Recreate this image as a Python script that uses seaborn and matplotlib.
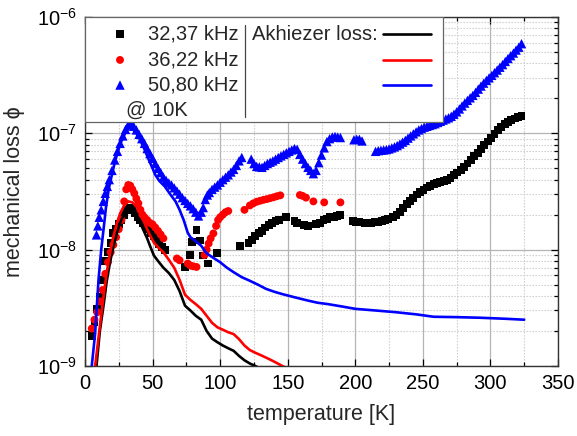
import numpy as np
import pandas as pd
import matplotlib
matplotlib.use("Agg")
import matplotlib.pyplot as plt
from matplotlib.ticker import MultipleLocator, LogLocator, NullFormatter
from matplotlib.lines import Line2D
from matplotlib.patches import Rectangle
import seaborn as sns

# ---- measured mechanical loss (markers) ----
t_3237 = [5, 7, 9, 11, 13, 15, 17, 19, 21, 23, 25, 27, 29, 31, 33, 35, 37, 39, 41, 43,
          45, 47, 49, 51, 53, 55, 57, 59,
          74, 78, 79, 82.5, 85, 87.5, 91, 97.5, 114.7,
          121, 123.5, 126, 128.5, 131, 133.5, 136, 138.5, 141, 143.5, 149, 155, 157, 162,
          165, 171, 174, 176.5, 179, 181.5, 184, 186.5, 189,
          198, 200.5, 203, 207, 209.5, 212, 214.5, 217, 219.5, 222, 224.5, 228, 230.5,
          233, 235.5, 238, 240.5, 243, 245.5, 248, 250.5, 253, 255.5, 258, 260.5, 263,
          265.5, 268, 270.5, 273, 275.5, 278, 280.5, 283, 285.5, 288, 290.5, 293, 295.5,
          298, 300.5, 303, 305.5, 308, 310.5, 313, 315.5, 318, 320.5, 323]
phi_3237 = [1.8e-9, 2.4e-9, 3.1e-9, 3.9e-9, 5.5e-9, 8e-9, 9.5e-9, 1.15e-8, 1.38e-8, 1.5e-8,
            1.65e-8, 1.8e-8, 2.0e-8, 2.2e-8, 2.3e-8, 2.2e-8, 2.05e-8, 1.9e-8, 1.8e-8, 1.7e-8,
            1.6e-8, 1.5e-8, 1.4e-8, 1.3e-8, 1.2e-8, 1.12e-8, 1.05e-8, 1.0e-8,
            7.1e-9, 9.0e-9, 1.17e-8, 1.48e-8, 1.2e-8, 8.9e-9, 7.6e-9, 9.4e-9, 1.08e-8,
            1.15e-8, 1.22e-8, 1.3e-8, 1.38e-8, 1.45e-8, 1.55e-8, 1.62e-8, 1.7e-8, 1.75e-8,
            1.8e-8, 1.9e-8, 1.75e-8, 1.7e-8, 1.62e-8,
            1.6e-8, 1.65e-8, 1.7e-8, 1.8e-8, 1.85e-8, 1.9e-8, 1.92e-8, 1.95e-8, 2.0e-8,
            1.75e-8, 1.73e-8, 1.72e-8, 1.7e-8, 1.7e-8, 1.7e-8, 1.72e-8, 1.73e-8, 1.76e-8,
            1.8e-8, 1.85e-8, 1.9e-8, 2.0e-8,
            2.12e-8, 2.3e-8, 2.48e-8, 2.62e-8, 2.8e-8, 2.98e-8, 3.12e-8, 3.28e-8, 3.42e-8,
            3.55e-8, 3.68e-8, 3.75e-8, 3.82e-8,
            3.9e-8, 4.0e-8, 4.15e-8, 4.35e-8, 4.6e-8, 4.85e-8, 5.15e-8, 5.5e-8, 5.9e-8,
            6.35e-8, 6.8e-8, 7.3e-8, 7.9e-8,
            8.5e-8, 9.1e-8, 9.8e-8, 1.06e-7, 1.14e-7, 1.2e-7, 1.26e-7, 1.3e-7, 1.34e-7,
            1.38e-7, 1.42e-7]

t_3622 = [5, 7, 9, 11, 13, 15, 17, 19, 21, 23, 25, 27, 29, 30.5, 32, 33.5, 35, 36.5, 38,
          39.5, 41, 42.5, 44, 46, 48, 50, 52, 54, 56, 58,
          68, 70, 76, 78, 80, 82.5,
          88.5, 90, 91.5, 93, 95, 97, 98.5, 100, 102, 104, 106, 118,
          122, 124.5, 127, 129.5, 132, 134.5, 137, 139.5, 142, 144.5,
          159, 161, 163.5, 169, 177, 189]
phi_3622 = [2.1e-9, 2.5e-9, 2.9e-9, 3.6e-9, 4.5e-9, 6.2e-9, 7.8e-9, 9.5e-9, 1.1e-8,
            1.28e-8, 1.5e-8, 1.8e-8, 2.6e-8, 3.3e-8, 3.6e-8, 3.55e-8, 3.3e-8, 3.05e-8,
            2.75e-8, 2.5e-8, 2.2e-8, 2.0e-8, 1.9e-8, 1.8e-8, 1.7e-8, 1.65e-8, 1.55e-8,
            1.45e-8, 1.35e-8, 1.25e-8,
            8.4e-9, 8.1e-9, 7.6e-9, 7.3e-9, 7.2e-9, 7.1e-9,
            9.0e-9, 1.0e-8, 1.13e-8, 1.25e-8, 1.38e-8, 1.6e-8, 1.8e-8, 1.9e-8, 2.0e-8,
            2.1e-8, 2.15e-8, 2.2e-8,
            2.4e-8, 2.5e-8, 2.58e-8, 2.63e-8, 2.68e-8, 2.72e-8, 2.77e-8, 2.82e-8, 2.88e-8,
            2.93e-8,
            2.95e-8, 2.9e-8, 2.8e-8, 2.6e-8, 2.55e-8, 2.55e-8]

t_5080 = [8.5, 9.5, 10.5, 12, 13.5, 15, 16.5, 18, 20, 22, 24, 26, 28, 30, 32, 34, 36, 38,
          40, 42, 44, 46, 48, 50, 52, 54, 56, 58, 60, 62, 64, 66, 68, 70, 72, 74, 76, 78,
          80, 82, 84, 86, 87.5, 89, 90.5, 92, 94, 96, 98, 100, 102, 104, 106, 108, 110,
          112, 114, 116,
          123, 125, 127, 129, 131, 133, 135, 137, 139, 141, 143, 145, 147, 149, 151, 153,
          155, 157, 159, 161, 163, 165, 167, 169, 171, 173, 175, 177, 179, 181, 183, 185,
          187, 189,
          199, 201, 203, 205,
          215, 217, 219, 221, 223, 225, 227, 229, 231, 233, 235, 237, 239, 241, 243, 245,
          247, 249, 251, 253, 255, 257, 259, 261, 263, 265, 267, 269, 271, 273, 275, 277,
          279, 281, 283, 285, 287, 289, 291, 293, 295, 297, 299, 301, 303, 305, 307, 309,
          311, 313, 315, 317, 319, 321, 323]
phi_5080 = [1.34e-8, 1.6e-8, 1.9e-8, 2.2e-8, 2.6e-8, 3.05e-8, 3.5e-8, 4.0e-8, 4.8e-8,
            5.9e-8, 7.0e-8, 8.2e-8, 9.5e-8, 1.08e-7, 1.18e-7, 1.22e-7, 1.15e-7, 1.07e-7,
            9.8e-8, 9.0e-8, 8.2e-8, 7.4e-8, 6.7e-8, 6.1e-8, 5.5e-8, 5.0e-8, 4.6e-8, 4.2e-8,
            3.95e-8, 3.75e-8, 3.6e-8, 3.4e-8, 3.2e-8, 3.0e-8, 2.8e-8, 2.65e-8, 2.5e-8,
            2.38e-8, 2.25e-8, 2.1e-8, 1.95e-8, 2.1e-8, 2.3e-8, 2.7e-8, 2.95e-8, 3.1e-8,
            3.3e-8, 3.45e-8, 3.6e-8, 3.8e-8, 4.0e-8, 4.2e-8, 4.4e-8, 4.65e-8, 4.9e-8,
            5.3e-8, 5.8e-8, 6.2e-8,
            6.0e-8, 5.5e-8, 5.2e-8, 5.15e-8, 5.1e-8, 5.3e-8, 5.5e-8, 5.65e-8, 5.8e-8,
            6.0e-8, 6.2e-8, 6.4e-8, 6.6e-8, 6.8e-8, 7.0e-8, 7.2e-8, 7.4e-8, 7.3e-8, 6.6e-8,
            6.0e-8, 5.5e-8, 5.1e-8, 4.8e-8, 4.5e-8, 4.8e-8, 5.6e-8, 6.5e-8, 7.5e-8, 8.5e-8,
            9.0e-8, 9.3e-8, 9.4e-8, 9.3e-8, 9.2e-8,
            8.8e-8, 8.9e-8, 8.9e-8, 8.6e-8,
            7.0e-8, 7.1e-8, 7.15e-8, 7.2e-8, 7.25e-8, 7.35e-8, 7.5e-8, 7.65e-8, 7.85e-8,
            8.1e-8, 8.4e-8, 8.7e-8, 9.1e-8, 9.5e-8, 9.9e-8, 1.03e-7, 1.07e-7, 1.1e-7,
            1.13e-7, 1.15e-7, 1.17e-7, 1.19e-7, 1.21e-7, 1.24e-7, 1.27e-7, 1.3e-7, 1.33e-7,
            1.36e-7, 1.4e-7, 1.46e-7, 1.53e-7, 1.62e-7, 1.72e-7, 1.82e-7, 1.92e-7, 2.02e-7,
            2.12e-7, 2.25e-7, 2.4e-7, 2.55e-7, 2.7e-7, 2.85e-7, 3.0e-7, 3.15e-7, 3.32e-7,
            3.5e-7, 3.7e-7, 3.9e-7, 4.15e-7, 4.4e-7, 4.65e-7, 4.9e-7, 5.2e-7, 5.5e-7, 5.9e-7]

# ---- Akhiezer loss (lines) ----
ta_3237 = [8.5, 11, 14, 16, 18.5, 21, 23.5, 26, 29, 32, 34, 36, 38.5, 41, 43.5, 46, 48.5,
           51, 54, 58, 62, 66, 70, 74, 78, 82, 86, 90, 94, 98, 102, 106, 110, 114, 118,
           122, 126, 130]
ak_3237 = [1.0e-9, 2.0e-9, 3.5e-9, 5.3e-9, 7.8e-9, 1.06e-8, 1.38e-8, 1.7e-8, 2.05e-8,
           2.3e-8, 2.25e-8, 2.1e-8, 1.9e-8, 1.68e-8, 1.45e-8, 1.25e-8, 1.05e-8, 8.9e-9,
           8.0e-9, 7.0e-9, 6.3e-9, 5.5e-9, 4.4e-9, 3.3e-9, 3.0e-9, 2.7e-9, 2.5e-9, 2.0e-9,
           1.72e-9, 1.6e-9, 1.5e-9, 1.42e-9, 1.35e-9, 1.22e-9, 1.12e-9, 1.05e-9, 1.0e-9,
           0.95e-9]

ta_3622 = [7.5, 11, 13.5, 16, 18.5, 21, 23.5, 26, 29, 32, 35, 38, 40.5, 43, 46, 48.5, 51,
           54, 58, 62, 66, 70, 74, 78, 82, 86, 90, 94, 98, 102, 106, 110, 114, 118, 122,
           126, 130, 134, 138, 142, 146, 150]
ak_3622 = [1.0e-9, 2.2e-9, 3.8e-9, 6.3e-9, 9.3e-9, 1.3e-8, 1.68e-8, 2.05e-8, 2.4e-8,
           2.6e-8, 2.55e-8, 2.35e-8, 2.1e-8, 1.8e-8, 1.5e-8, 1.3e-8, 1.15e-8, 1.05e-8,
           9.5e-9, 8.2e-9, 7.0e-9, 5.5e-9, 4.1e-9, 3.7e-9, 3.4e-9, 3.1e-9, 2.7e-9, 2.35e-9,
           2.15e-9, 2.05e-9, 1.95e-9, 1.88e-9, 1.7e-9, 1.5e-9, 1.37e-9, 1.3e-9, 1.24e-9,
           1.18e-9, 1.12e-9, 1.06e-9, 1.0e-9, 0.95e-9]

ta_5080 = [5, 7.5, 10, 12, 14, 15.5, 17.5, 19.5, 22, 24.5, 27, 30, 33, 35.5, 38, 41, 44,
           47, 50, 52, 55, 59, 63, 67, 70, 73, 76, 78, 82, 86, 90, 95, 100, 105, 110, 116,
           122, 128, 134, 140, 146, 155, 165, 172, 180, 190, 200, 215, 230, 245, 258, 275,
           292, 310, 325]
ak_5080 = [1.0e-9, 1.9e-9, 5.5e-9, 1.0e-8, 1.6e-8, 2.3e-8, 3.3e-8, 4.2e-8, 5.6e-8, 7.1e-8,
           8.6e-8, 1.02e-7, 1.13e-7, 1.08e-7, 1.0e-7, 8.7e-8, 7.3e-8, 6.0e-8, 5.0e-8,
           4.4e-8, 3.9e-8, 3.5e-8, 3.0e-8, 2.6e-8, 2.2e-8, 1.8e-8, 1.4e-8, 1.28e-8,
           1.18e-8, 1.08e-8, 9.3e-9, 8.5e-9, 7.8e-9, 7.0e-9, 6.4e-9, 5.8e-9, 5.4e-9,
           5.0e-9, 4.6e-9, 4.35e-9, 4.15e-9, 3.9e-9, 3.65e-9, 3.5e-9, 3.4e-9, 3.25e-9,
           3.1e-9, 3.0e-9, 2.9e-9, 2.78e-9, 2.65e-9, 2.63e-9, 2.6e-9, 2.55e-9, 2.5e-9]

labels = ["32,37 kHz", "36,22 kHz", "50,80 kHz"]
colors = ["black", "#ff0000", "#0000ff"]
markers = ["s", "o", "^"]
marker_sizes = [32, 32, 46]

sns.set_style("ticks")
plt.rcParams["font.family"] = ["Liberation Sans", "DejaVu Sans"]
plt.rcParams["mathtext.fontset"] = "custom"
plt.rcParams["mathtext.rm"] = "Liberation Sans"
plt.rcParams["mathtext.it"] = "Liberation Sans:italic"

fig = plt.figure(figsize=(5.77, 4.36), dpi=100)
ax = fig.add_axes([85 / 577, 1 - 366 / 436, 473 / 577, 349 / 436])

meas = [(t_3237, phi_3237), (t_3622, phi_3622), (t_5080, phi_5080)]
akh = [(ta_3237, ak_3237), (ta_3622, ak_3622), (ta_5080, ak_5080)]

for (t, p), c, m, s in zip(meas, colors, markers, marker_sizes):
    df = pd.DataFrame({"T": t, "phi": p})
    sns.scatterplot(data=df, x="T", y="phi", ax=ax, color=c, marker=m, s=s,
                    edgecolor="none", linewidth=0, zorder=3, legend=False)

for (t, p), c in zip(akh, colors):
    df = pd.DataFrame({"T": t, "phi": p})
    sns.lineplot(data=df, x="T", y="phi", ax=ax, color=c, lw=1.9, sort=False,
                 estimator=None, zorder=4, legend=False)

ax.set_yscale("log")
ax.set_xlim(0, 350)
ax.set_ylim(1e-9, 1e-6)

ax.xaxis.set_major_locator(MultipleLocator(50))
ax.xaxis.set_minor_locator(MultipleLocator(25))
ax.yaxis.set_major_locator(LogLocator(base=10, numticks=10))
ax.yaxis.set_minor_locator(LogLocator(base=10, subs=np.arange(2, 10), numticks=20))
ax.yaxis.set_minor_formatter(NullFormatter())

ax.grid(which="major", color="#b4b4b4", lw=0.9, ls="-", zorder=0)
ax.grid(which="minor", color="#c8c8c8", lw=0.8, ls=(0, (1.2, 1.5)), zorder=0)
ax.set_axisbelow(True)

ax.tick_params(which="both", direction="in", top=True, right=True, labelsize=14.5,
               colors="black", width=0.9)
ax.tick_params(which="major", length=5, pad=6)
ax.tick_params(which="minor", length=3)
for sp in ax.spines.values():
    sp.set_color("#333333")
    sp.set_linewidth(1.0)

ax.set_xlabel("temperature [K]", fontsize=15.5, labelpad=8)
ax.set_ylabel("mechanical loss \u03d5", fontsize=15.5, labelpad=8)

# legend block: measured frequencies on the left, Akhiezer curves on the right
ax.add_patch(Rectangle((0, 0.699), 0.757, 0.301, transform=ax.transAxes,
                       facecolor="white", edgecolor="#666666", lw=0.9, zorder=6))
rows = [0.951, 0.877, 0.805]
for y, lab, c, m, s in zip(rows, labels, colors, markers, marker_sizes):
    ax.scatter([0.074], [y], transform=ax.transAxes, color=c, marker=m, s=s,
               edgecolor="none", zorder=7, clip_on=False)
    ax.text(0.133, y, lab, transform=ax.transAxes, fontsize=14.5, va="center",
            ha="left", zorder=7)
    ax.add_line(Line2D([0.630, 0.731], [y, y], transform=ax.transAxes, color=c,
                       lw=1.9, zorder=7))
ax.text(0.087, 0.734, "@ 10K", transform=ax.transAxes, fontsize=14.5, va="center",
        ha="left", zorder=7)
ax.add_line(Line2D([0.338, 0.338], [0.713, 0.977], transform=ax.transAxes,
                   color="#444444", lw=0.9, zorder=7))
ax.text(0.353, rows[0], "Akhiezer loss:", transform=ax.transAxes, fontsize=14.5,
        va="center", ha="left", zorder=7)

fig.savefig("out.png", dpi=100)
